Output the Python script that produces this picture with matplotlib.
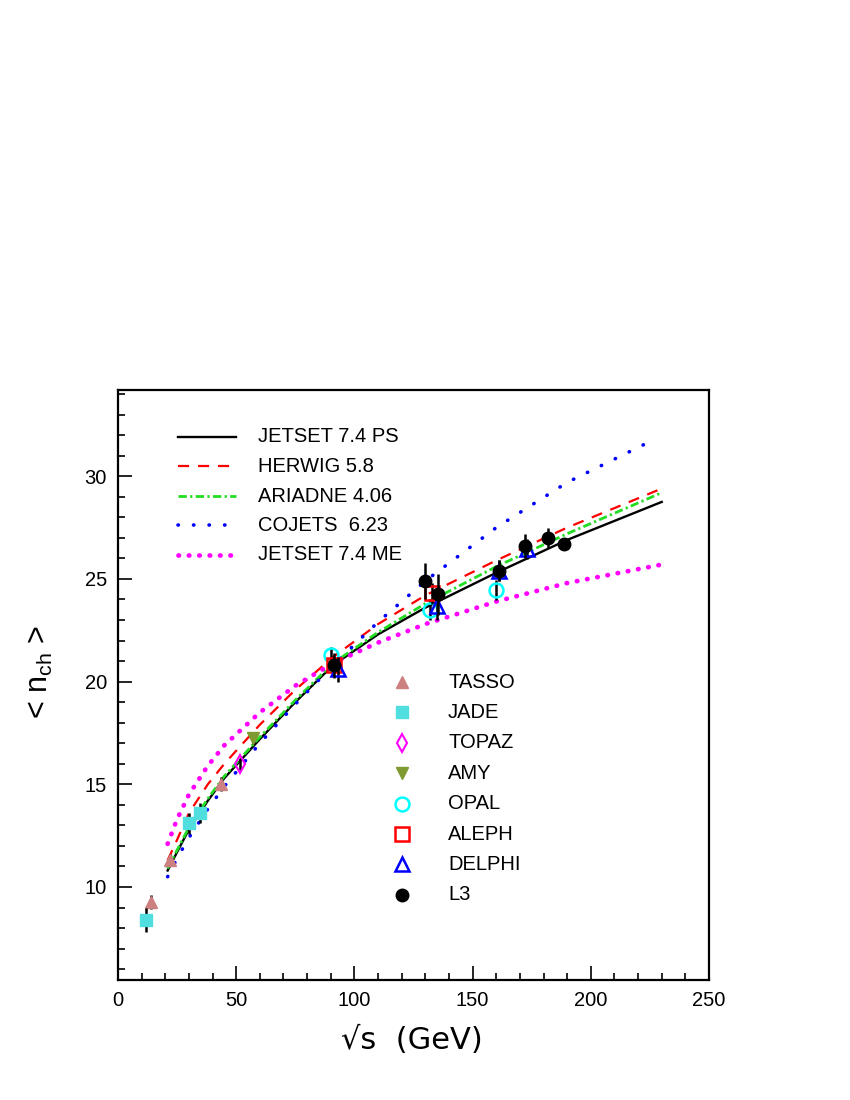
import numpy as np
import matplotlib
matplotlib.use("Agg")
import matplotlib.pyplot as plt
from matplotlib.ticker import MultipleLocator

# Monte Carlo curves
cx = [21, 25, 30, 38, 45, 60, 75, 91, 110, 130, 160, 190, 230]
jetset_ps = [10.8, 11.7, 12.8, 14.2, 15.3, 17.2, 19.0, 20.8, 22.3, 23.6, 25.3, 26.9, 28.75]
herwig = [11.3, 12.3, 13.6, 15.0, 16.0, 17.9, 19.6, 21.2, 22.8, 24.2, 25.9, 27.5, 29.4]
ariadne = [10.9, 11.8, 12.9, 14.3, 15.4, 17.3, 19.1, 20.9, 22.4, 23.8, 25.6, 27.2, 29.2]
cojets_x = [21, 25, 30, 38, 45, 60, 75, 91, 110, 130, 160, 190, 227]
cojets = [10.5, 11.4, 12.4, 13.8, 14.9, 17.0, 18.9, 20.8, 22.9, 24.9, 27.5, 29.7, 31.8]
jetset_me = [12.1, 13.3, 14.5, 15.9, 16.9, 18.5, 19.8, 20.9, 21.9, 22.8, 23.9, 24.8, 25.7]

# Data
tasso_x = [14, 22, 43.6]; tasso_y = [9.27, 11.3, 15.0]; tasso_e = [0.35, 0.3, 0.35]
jade_x = [12, 30, 34.7]; jade_y = [8.4, 13.1, 13.6]; jade_e = [0.6, 0.5, 0.5]
topaz_x = [51.6]; topaz_y = [16.0]; topaz_e = [0.3]
amy_x = [57.1]; amy_y = [17.25]; amy_e = [0.3]
opal_x = [90, 132, 160]; opal_y = [21.3, 23.5, 24.45]; opal_e = [0.4, 0.5, 0.5]
aleph_x = [91.4, 133]; aleph_y = [20.8, 24.3]; aleph_e = [0.3, 0.5]
delphi_x = [93, 135, 161, 173]; delphi_y = [20.6, 23.7, 25.4, 26.45]; delphi_e = [0.6, 0.7, 0.5, 0.5]
l3_x = [91.4, 130, 135.4, 161, 172, 182, 188.7]
l3_y = [20.8, 24.9, 24.25, 25.4, 26.6, 27.0, 26.7]
l3_e = [0.6, 0.9, 1.0, 0.5, 0.6, 0.5, 0.3]

fig = plt.figure(figsize=(8.5, 11), dpi=100)
ax = fig.add_axes([118/850, 1-980/1100, 591/850, 590/1100])
ax.set_xlim(0, 250)
ax.set_ylim(5.47, 34.2)

ls_ar = (0, (3, 1.2, 0.8, 1.2))
ax.plot(cx, jetset_ps, color="black", lw=1.7)
ax.plot(cx, herwig, color="red", lw=1.6, ls=(0, (5, 4)))
ax.plot(cx, ariadne, color="#22dd22", lw=2.0, ls=ls_ar)
ax.plot(cojets_x, cojets, color="blue", lw=2.6, ls=(0, (0.1, 4.2)), dash_capstyle="round")
ax.plot(cx, jetset_me, color="magenta", lw=3.4, ls=(0, (0.1, 2.1)), dash_capstyle="round")

def pts(x, y, e, **kw):
    ax.errorbar(x, y, yerr=e, fmt="none", ecolor="black", elinewidth=1.8, capsize=0)
    ax.plot(x, y, ls="none", **kw)

pts(tasso_x, tasso_y, tasso_e, marker="^", ms=9, color="#cc8080")
pts(jade_x, jade_y, jade_e, marker="s", ms=9, color="#50dede")
pts(topaz_x, topaz_y, topaz_e, marker="d", ms=9, mfc="none", mec="magenta", mew=1.5)
pts(amy_x, amy_y, amy_e, marker="v", ms=9, color="#7f9a30")
pts(opal_x, opal_y, opal_e, marker="o", ms=10, mfc="none", mec="cyan", mew=1.8)
pts(aleph_x, aleph_y, aleph_e, marker="s", ms=10, mfc="none", mec="red", mew=1.8)
pts(delphi_x, delphi_y, delphi_e, marker="^", ms=10, mfc="none", mec="blue", mew=1.8)
pts(l3_x, l3_y, l3_e, marker="o", ms=9, color="black")

tr = ax.transData.inverted()
def d(px, py):
    return tr.transform(fig.transFigure.transform((px/850, 1-py/1100)))

line_leg = [("JETSET 7.4 PS", dict(color="black", lw=1.7)),
            ("HERWIG 5.8", dict(color="red", lw=1.6, ls=(0, (5, 4)))),
            ("ARIADNE 4.06", dict(color="#22dd22", lw=2.0, ls=ls_ar)),
            ("COJETS  6.23", dict(color="blue", lw=2.6, ls=(0, (0.1, 4.2)), dash_capstyle="round")),
            ("JETSET 7.4 ME", dict(color="magenta", lw=3.4, ls=(0, (0.1, 2.1)), dash_capstyle="round"))]
for i, (lab, kw) in enumerate(line_leg):
    py = 437 + i*29.5
    a = d(178, py); b = d(236, py)
    ax.plot([a[0], b[0]], [a[1], b[1]], **kw)
    t = d(258, py)
    ax.text(t[0], t[1], lab, fontsize=14.5, va="center", ha="left", family="Liberation Sans")

mk_leg = [("TASSO", dict(marker="^", ms=9, color="#cc8080")),
          ("JADE", dict(marker="s", ms=9, color="#50dede")),
          ("TOPAZ", dict(marker="d", ms=9, mfc="none", mec="magenta", mew=1.5)),
          ("AMY", dict(marker="v", ms=9, color="#7f9a30")),
          ("OPAL", dict(marker="o", ms=10, mfc="none", mec="cyan", mew=1.8)),
          ("ALEPH", dict(marker="s", ms=10, mfc="none", mec="red", mew=1.8)),
          ("DELPHI", dict(marker="^", ms=10, mfc="none", mec="blue", mew=1.8)),
          ("L3", dict(marker="o", ms=9, color="black"))]
for i, (lab, kw) in enumerate(mk_leg):
    py = 682 + i*30.4
    m = d(402, py)
    ax.plot([m[0]], [m[1]], ls="none", **kw)
    t = d(448, py)
    ax.text(t[0], t[1], lab, fontsize=14.5, va="center", ha="left", family="Liberation Sans")

ax.xaxis.set_major_locator(MultipleLocator(50))
ax.xaxis.set_minor_locator(MultipleLocator(10))
ax.yaxis.set_major_locator(MultipleLocator(5))
ax.yaxis.set_minor_locator(MultipleLocator(1))
ax.tick_params(which="both", direction="in", top=False, right=False, labelsize=14.5, width=1.2)
ax.tick_params(which="major", length=10, pad=8)
ax.tick_params(which="minor", length=5)
for l in ax.get_xticklabels() + ax.get_yticklabels():
    l.set_family("Liberation Sans")
for s in ax.spines.values():
    s.set_linewidth(1.6)

fig.text(412/850, 1-1040/1100, "√s  (GeV)", fontsize=22, ha="center", va="center", family="DejaVu Sans")
fig.text(40/850, 1-672/1100, r"< n$_{\mathregular{ch}}$ >", fontsize=22, rotation=90,
         ha="center", va="center", family="Liberation Sans")

fig.savefig("out.png", dpi=100)
